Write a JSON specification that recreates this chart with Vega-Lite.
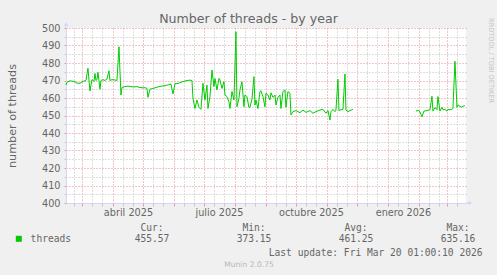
{
  "$schema": "https://vega.github.io/schema/vega-lite/v6.json",
  "width": 400,
  "height": 175,
  "autosize": "none",
  "padding": {"left": 66, "top": 28, "right": 31, "bottom": 72},
  "background": "#f0f0f0",
  "title": {"text": "Number of threads - by year", "font": "DejaVu Sans", "fontSize": 12.6, "fontWeight": "normal", "color": "#666666", "anchor": "middle", "frame": "group", "dx": -17.5, "offset": -8},
  "config": {
    "view": {"stroke": null, "fill": "#ffffff"},
    "axis": {"labelFont": "DejaVu Sans", "titleFont": "DejaVu Sans", "labelColor": "#666666", "titleColor": "#666666", "titleFontWeight": "normal"}
  },
  "data": {"values": [
    {"date": "2025-02-13", "v": 467.4, "seg": 1},
    {"date": "2025-02-14", "v": 469, "seg": 1},
    {"date": "2025-02-17", "v": 469.8, "seg": 1},
    {"date": "2025-02-21", "v": 469.5, "seg": 1},
    {"date": "2025-02-24", "v": 468.5, "seg": 1},
    {"date": "2025-02-27", "v": 468.4, "seg": 1},
    {"date": "2025-03-02", "v": 469.5, "seg": 1},
    {"date": "2025-03-05", "v": 470, "seg": 1},
    {"date": "2025-03-07", "v": 477, "seg": 1},
    {"date": "2025-03-09", "v": 464, "seg": 1},
    {"date": "2025-03-11", "v": 470.5, "seg": 1},
    {"date": "2025-03-13", "v": 469.5, "seg": 1},
    {"date": "2025-03-14", "v": 474, "seg": 1},
    {"date": "2025-03-15", "v": 470, "seg": 1},
    {"date": "2025-03-16", "v": 470.5, "seg": 1},
    {"date": "2025-03-17", "v": 474.7, "seg": 1},
    {"date": "2025-03-18", "v": 470, "seg": 1},
    {"date": "2025-03-19", "v": 465, "seg": 1},
    {"date": "2025-03-20", "v": 470, "seg": 1},
    {"date": "2025-03-22", "v": 470.5, "seg": 1},
    {"date": "2025-03-24", "v": 470, "seg": 1},
    {"date": "2025-03-26", "v": 470.8, "seg": 1},
    {"date": "2025-03-28", "v": 475.6, "seg": 1},
    {"date": "2025-03-29", "v": 470, "seg": 1},
    {"date": "2025-03-31", "v": 470.5, "seg": 1},
    {"date": "2025-04-03", "v": 470.3, "seg": 1},
    {"date": "2025-04-05", "v": 470, "seg": 1},
    {"date": "2025-04-07", "v": 489.3, "seg": 1},
    {"date": "2025-04-09", "v": 461.7, "seg": 1},
    {"date": "2025-04-10", "v": 466, "seg": 1},
    {"date": "2025-04-13", "v": 466.5, "seg": 1},
    {"date": "2025-04-16", "v": 466.8, "seg": 1},
    {"date": "2025-04-19", "v": 466.5, "seg": 1},
    {"date": "2025-04-22", "v": 466.3, "seg": 1},
    {"date": "2025-04-25", "v": 466.5, "seg": 1},
    {"date": "2025-04-28", "v": 466, "seg": 1},
    {"date": "2025-05-01", "v": 465.8, "seg": 1},
    {"date": "2025-05-03", "v": 465.9, "seg": 1},
    {"date": "2025-05-05", "v": 465.5, "seg": 1},
    {"date": "2025-05-06", "v": 460.4, "seg": 1},
    {"date": "2025-05-08", "v": 465, "seg": 1},
    {"date": "2025-05-11", "v": 465.5, "seg": 1},
    {"date": "2025-05-14", "v": 466, "seg": 1},
    {"date": "2025-05-17", "v": 466.5, "seg": 1},
    {"date": "2025-05-20", "v": 466.8, "seg": 1},
    {"date": "2025-05-23", "v": 467, "seg": 1},
    {"date": "2025-05-26", "v": 467.5, "seg": 1},
    {"date": "2025-05-29", "v": 468, "seg": 1},
    {"date": "2025-05-31", "v": 462.3, "seg": 1},
    {"date": "2025-06-02", "v": 468.2, "seg": 1},
    {"date": "2025-06-05", "v": 468.3, "seg": 1},
    {"date": "2025-06-08", "v": 469, "seg": 1},
    {"date": "2025-06-11", "v": 469.5, "seg": 1},
    {"date": "2025-06-14", "v": 470, "seg": 1},
    {"date": "2025-06-17", "v": 470.2, "seg": 1},
    {"date": "2025-06-19", "v": 470, "seg": 1},
    {"date": "2025-06-20", "v": 459.8, "seg": 1},
    {"date": "2025-06-22", "v": 454, "seg": 1},
    {"date": "2025-06-24", "v": 458.9, "seg": 1},
    {"date": "2025-06-26", "v": 454.7, "seg": 1},
    {"date": "2025-06-28", "v": 453.5, "seg": 1},
    {"date": "2025-06-30", "v": 468.4, "seg": 1},
    {"date": "2025-07-02", "v": 458.9, "seg": 1},
    {"date": "2025-07-04", "v": 467.4, "seg": 1},
    {"date": "2025-07-05", "v": 454, "seg": 1},
    {"date": "2025-07-07", "v": 460.8, "seg": 1},
    {"date": "2025-07-09", "v": 476, "seg": 1},
    {"date": "2025-07-11", "v": 466.5, "seg": 1},
    {"date": "2025-07-12", "v": 471.2, "seg": 1},
    {"date": "2025-07-14", "v": 464.6, "seg": 1},
    {"date": "2025-07-16", "v": 471.2, "seg": 1},
    {"date": "2025-07-17", "v": 470.3, "seg": 1},
    {"date": "2025-07-19", "v": 465.5, "seg": 1},
    {"date": "2025-07-21", "v": 469.3, "seg": 1},
    {"date": "2025-07-22", "v": 461.7, "seg": 1},
    {"date": "2025-07-24", "v": 460.8, "seg": 1},
    {"date": "2025-07-26", "v": 457.9, "seg": 1},
    {"date": "2025-07-27", "v": 454, "seg": 1},
    {"date": "2025-07-29", "v": 463.7, "seg": 1},
    {"date": "2025-07-31", "v": 458.9, "seg": 1},
    {"date": "2025-08-02", "v": 497.9, "seg": 1},
    {"date": "2025-08-03", "v": 455, "seg": 1},
    {"date": "2025-08-05", "v": 459.8, "seg": 1},
    {"date": "2025-08-06", "v": 464.6, "seg": 1},
    {"date": "2025-08-08", "v": 469.3, "seg": 1},
    {"date": "2025-08-10", "v": 455, "seg": 1},
    {"date": "2025-08-11", "v": 461.7, "seg": 1},
    {"date": "2025-08-13", "v": 460.8, "seg": 1},
    {"date": "2025-08-15", "v": 454.5, "seg": 1},
    {"date": "2025-08-16", "v": 454.7, "seg": 1},
    {"date": "2025-08-18", "v": 459.4, "seg": 1},
    {"date": "2025-08-20", "v": 472.2, "seg": 1},
    {"date": "2025-08-21", "v": 456, "seg": 1},
    {"date": "2025-08-22", "v": 458.9, "seg": 1},
    {"date": "2025-08-24", "v": 454, "seg": 1},
    {"date": "2025-08-26", "v": 463.7, "seg": 1},
    {"date": "2025-08-27", "v": 464.2, "seg": 1},
    {"date": "2025-08-29", "v": 460.8, "seg": 1},
    {"date": "2025-08-31", "v": 455, "seg": 1},
    {"date": "2025-09-01", "v": 462.7, "seg": 1},
    {"date": "2025-09-03", "v": 461.7, "seg": 1},
    {"date": "2025-09-05", "v": 458.9, "seg": 1},
    {"date": "2025-09-06", "v": 463, "seg": 1},
    {"date": "2025-09-08", "v": 460.4, "seg": 1},
    {"date": "2025-09-10", "v": 461.7, "seg": 1},
    {"date": "2025-09-11", "v": 456, "seg": 1},
    {"date": "2025-09-13", "v": 460.4, "seg": 1},
    {"date": "2025-09-15", "v": 461.7, "seg": 1},
    {"date": "2025-09-16", "v": 454, "seg": 1},
    {"date": "2025-09-18", "v": 463.7, "seg": 1},
    {"date": "2025-09-20", "v": 464.6, "seg": 1},
    {"date": "2025-09-21", "v": 454.7, "seg": 1},
    {"date": "2025-09-23", "v": 463.7, "seg": 1},
    {"date": "2025-09-25", "v": 462.7, "seg": 1},
    {"date": "2025-09-26", "v": 450.3, "seg": 1},
    {"date": "2025-09-28", "v": 452.2, "seg": 1},
    {"date": "2025-10-01", "v": 452.8, "seg": 1},
    {"date": "2025-10-05", "v": 451.6, "seg": 1},
    {"date": "2025-10-08", "v": 453.1, "seg": 1},
    {"date": "2025-10-11", "v": 451.8, "seg": 1},
    {"date": "2025-10-15", "v": 452.8, "seg": 1},
    {"date": "2025-10-18", "v": 451.3, "seg": 1},
    {"date": "2025-10-21", "v": 452.2, "seg": 1},
    {"date": "2025-10-25", "v": 453.1, "seg": 1},
    {"date": "2025-10-28", "v": 453.5, "seg": 1},
    {"date": "2025-10-31", "v": 451.3, "seg": 1},
    {"date": "2025-11-02", "v": 452.8, "seg": 1},
    {"date": "2025-11-04", "v": 447.4, "seg": 1},
    {"date": "2025-11-05", "v": 452.2, "seg": 1},
    {"date": "2025-11-07", "v": 453.5, "seg": 1},
    {"date": "2025-11-09", "v": 452.2, "seg": 1},
    {"date": "2025-11-10", "v": 453.1, "seg": 1},
    {"date": "2025-11-12", "v": 470.7, "seg": 1},
    {"date": "2025-11-13", "v": 452.8, "seg": 1},
    {"date": "2025-11-14", "v": 453.1, "seg": 1},
    {"date": "2025-11-17", "v": 453.5, "seg": 1},
    {"date": "2025-11-19", "v": 473.7, "seg": 1},
    {"date": "2025-11-20", "v": 453.1, "seg": 1},
    {"date": "2025-11-22", "v": 452.2, "seg": 1},
    {"date": "2025-11-25", "v": 453.1, "seg": 1},
    {"date": "2025-11-27", "v": 453.5, "seg": 1},
    {"date": "2026-01-29", "v": 452.6, "seg": 2},
    {"date": "2026-02-01", "v": 452.8, "seg": 2},
    {"date": "2026-02-02", "v": 452, "seg": 2},
    {"date": "2026-02-04", "v": 449.3, "seg": 2},
    {"date": "2026-02-06", "v": 452.5, "seg": 2},
    {"date": "2026-02-09", "v": 452.8, "seg": 2},
    {"date": "2026-02-12", "v": 453.3, "seg": 2},
    {"date": "2026-02-14", "v": 461, "seg": 2},
    {"date": "2026-02-15", "v": 452.5, "seg": 2},
    {"date": "2026-02-17", "v": 454.5, "seg": 2},
    {"date": "2026-02-19", "v": 453.3, "seg": 2},
    {"date": "2026-02-20", "v": 460.8, "seg": 2},
    {"date": "2026-02-22", "v": 452.5, "seg": 2},
    {"date": "2026-02-24", "v": 454.7, "seg": 2},
    {"date": "2026-02-25", "v": 453.3, "seg": 2},
    {"date": "2026-02-27", "v": 453.5, "seg": 2},
    {"date": "2026-03-01", "v": 452.5, "seg": 2},
    {"date": "2026-03-02", "v": 453.5, "seg": 2},
    {"date": "2026-03-04", "v": 453.3, "seg": 2},
    {"date": "2026-03-06", "v": 453.5, "seg": 2},
    {"date": "2026-03-07", "v": 454.2, "seg": 2},
    {"date": "2026-03-09", "v": 481, "seg": 2},
    {"date": "2026-03-11", "v": 454.7, "seg": 2},
    {"date": "2026-03-12", "v": 456, "seg": 2},
    {"date": "2026-03-14", "v": 455.3, "seg": 2},
    {"date": "2026-03-16", "v": 454.7, "seg": 2},
    {"date": "2026-03-17", "v": 455.3, "seg": 2},
    {"date": "2026-03-19", "v": 455.6, "seg": 2}
  ]},
  "resolve": {"scale": {"x": "independent", "y": "independent"}, "axis": {"x": "independent", "y": "independent"}},
  "layer": [
    {
      "mark": {"type": "line", "opacity": 0},
      "encoding": {
        "x": {"field": "date", "type": "temporal",
          "scale": {"type": "utc", "nice": false, "domain": [{"year": 2025, "month": 2, "date": 13, "hours": 1, "utc": true}, {"year": 2026, "month": 3, "date": 20, "hours": 1, "utc": true}]},
          "axis": {"orient": "bottom", "values": [
            {"year": 2025, "month": 2, "date": 21, "utc": true},
            {"year": 2025, "month": 3, "date": 11, "utc": true}, {"year": 2025, "month": 3, "date": 21, "utc": true},
            {"year": 2025, "month": 4, "date": 11, "utc": true}, {"year": 2025, "month": 4, "date": 21, "utc": true},
            {"year": 2025, "month": 5, "date": 11, "utc": true}, {"year": 2025, "month": 5, "date": 21, "utc": true},
            {"year": 2025, "month": 6, "date": 11, "utc": true}, {"year": 2025, "month": 6, "date": 21, "utc": true},
            {"year": 2025, "month": 7, "date": 11, "utc": true}, {"year": 2025, "month": 7, "date": 21, "utc": true},
            {"year": 2025, "month": 8, "date": 11, "utc": true}, {"year": 2025, "month": 8, "date": 21, "utc": true},
            {"year": 2025, "month": 9, "date": 11, "utc": true}, {"year": 2025, "month": 9, "date": 21, "utc": true},
            {"year": 2025, "month": 10, "date": 11, "utc": true}, {"year": 2025, "month": 10, "date": 21, "utc": true},
            {"year": 2025, "month": 11, "date": 11, "utc": true}, {"year": 2025, "month": 11, "date": 21, "utc": true},
            {"year": 2025, "month": 12, "date": 11, "utc": true}, {"year": 2025, "month": 12, "date": 21, "utc": true},
            {"year": 2026, "month": 1, "date": 11, "utc": true}, {"year": 2026, "month": 1, "date": 21, "utc": true},
            {"year": 2026, "month": 2, "date": 11, "utc": true}, {"year": 2026, "month": 2, "date": 21, "utc": true},
            {"year": 2026, "month": 3, "date": 11, "utc": true}],
            "grid": true, "gridColor": "#bdbdbd", "gridDash": [1, 2], "labels": false, "ticks": true, "tickColor": "#c8c8c8", "tickSize": 3, "domain": false,
            "title": "Munin 2.0.75", "titleX": 182.5, "titleY": 61, "titleAlign": "center", "titleBaseline": "middle", "titleFont": "DejaVu Sans", "titleFontSize": 7.6, "titleColor": "#b8b8b8"}},
        "y": {"field": "v", "type": "quantitative",
          "scale": {"domain": [400, 500], "nice": false, "zero": false},
          "axis": {"orient": "left", "values": [405, 415, 425, 435, 445, 455, 465, 475, 485, 495], "grid": true, "gridColor": "#bdbdbd", "gridDash": [1, 2], "labels": false, "ticks": true, "tickSize": 2, "tickColor": "#c8c8c8", "domain": false, "title": null}},
        "detail": {"field": "seg"}
      }
    },
    {
      "mark": {"type": "line", "opacity": 0},
      "encoding": {
        "x": {"field": "date", "type": "temporal",
          "scale": {"type": "utc", "nice": false, "domain": [{"year": 2025, "month": 2, "date": 13, "hours": 1, "utc": true}, {"year": 2026, "month": 3, "date": 20, "hours": 1, "utc": true}]},
          "axis": {"orient": "bottom", "values": [
            {"year": 2025, "month": 3, "date": 1, "utc": true}, {"year": 2025, "month": 4, "date": 1, "utc": true},
            {"year": 2025, "month": 5, "date": 1, "utc": true}, {"year": 2025, "month": 6, "date": 1, "utc": true},
            {"year": 2025, "month": 7, "date": 1, "utc": true}, {"year": 2025, "month": 8, "date": 1, "utc": true},
            {"year": 2025, "month": 9, "date": 1, "utc": true}, {"year": 2025, "month": 10, "date": 1, "utc": true},
            {"year": 2025, "month": 11, "date": 1, "utc": true}, {"year": 2025, "month": 12, "date": 1, "utc": true},
            {"year": 2026, "month": 1, "date": 1, "utc": true}, {"year": 2026, "month": 2, "date": 1, "utc": true},
            {"year": 2026, "month": 3, "date": 1, "utc": true}],
            "grid": true, "gridColor": "#e88a8a", "gridDash": [1, 2], "labels": false, "ticks": true, "tickColor": "#eb9595", "tickSize": 3, "domain": false,
            "title": "Last update: Fri Mar 20 01:00:10 2026", "titleX": 416, "titleY": 49, "titleAlign": "right", "titleBaseline": "middle", "titleFont": "DejaVu Sans Mono", "titleFontSize": 9.6, "titleColor": "#666666"}},
        "y": {"field": "v", "type": "quantitative",
          "scale": {"domain": [400, 500], "nice": false, "zero": false},
          "axis": {"orient": "left", "values": [400, 410, 420, 430, 440, 450, 460, 470, 480, 490, 500], "grid": true, "gridColor": "#e88a8a", "gridDash": [1, 2], "labels": true, "labelFontSize": 9.7, "labelPadding": 4, "labelFlush": false, "labelOverlap": false, "ticks": true, "tickSize": 2, "tickColor": "#eb9595", "domain": true, "domainColor": "#CFD6F8",
            "title": "number of threads", "titleFontSize": 11.2, "titlePadding": 24}},
        "detail": {"field": "seg"}
      }
    },
    {
      "mark": {"type": "line", "strokeWidth": 1},
      "encoding": {
        "x": {"field": "date", "type": "temporal",
          "scale": {"type": "utc", "nice": false, "domain": [{"year": 2025, "month": 2, "date": 13, "hours": 1, "utc": true}, {"year": 2026, "month": 3, "date": 20, "hours": 1, "utc": true}]},
          "axis": {"orient": "bottom", "values": [
            {"year": 2025, "month": 4, "date": 16, "utc": true}, {"year": 2025, "month": 7, "date": 16, "utc": true},
            {"year": 2025, "month": 10, "date": 16, "utc": true}, {"year": 2026, "month": 1, "date": 16, "utc": true}],
            "labelExpr": "['enero','febrero','marzo','abril','mayo','junio','julio','agosto','septiembre','octubre','noviembre','diciembre'][utcmonth(datum.value)] + ' ' + utcyear(datum.value)",
            "grid": false, "ticks": false, "labels": true, "labelFontSize": 9.7, "labelPadding": 4, "labelFlush": false, "labelOverlap": false, "domain": true, "domainColor": "#CFD6F8", "title": null}},
        "y": {"field": "v", "type": "quantitative",
          "scale": {"domain": [400, 500], "nice": false, "zero": false},
          "axis": {"orient": "right", "grid": false, "labels": false, "ticks": false, "domain": false,
            "title": "RRDTOOL / TOBI OETIKER", "titleAngle": 90, "titleX": 24, "titleY": 32, "titleAlign": "center", "titleBaseline": "middle", "titleFontSize": 6.6, "titleColor": "#c4c4c4"}},
        "detail": {"field": "seg"},
        "color": {"datum": "threads", "type": "nominal", "scale": {"range": ["#00cc00"]},
          "legend": {"orient": "none", "legendX": -52, "legendY": 206, "title": null, "padding": 0, "symbolType": "square", "symbolSize": 36, "symbolStrokeWidth": 0, "symbolFillColor": "#00cc00", "symbolStrokeColor": "#00cc00", "labelFont": "DejaVu Sans Mono", "labelFontSize": 9.6, "labelColor": "#666666", "labelOffset": 7}}
      }
    },
    {
      "data": {"values": [
        {"col": "Cur", "row": "head", "label": "Cur:"},
        {"col": "Min", "row": "head", "label": "Min:"},
        {"col": "Avg", "row": "head", "label": "Avg:"},
        {"col": "Max", "row": "head", "label": "Max:"},
        {"col": "Cur", "row": "val", "label": "455.57"},
        {"col": "Min", "row": "val", "label": "373.15"},
        {"col": "Avg", "row": "val", "label": "461.25"},
        {"col": "Max", "row": "val", "label": "635.16"}
      ]},
      "mark": {"type": "text", "font": "DejaVu Sans Mono", "fontSize": 9.6, "color": "#666666", "align": "center", "baseline": "middle"},
      "encoding": {
        "x": {"field": "col", "type": "nominal", "scale": {"type": "point", "domain": ["Cur", "Min", "Avg", "Max"], "range": [86, 392], "padding": 0}, "axis": null},
        "y": {"field": "row", "type": "nominal", "scale": {"type": "point", "domain": ["head", "val"], "range": [200, 211], "padding": 0}, "axis": null},
        "text": {"field": "label"}
      }
    },
    {
      "data": {"values": [{}]},
      "mark": {"type": "rule", "color": "#CFD6F8", "strokeWidth": 1},
      "encoding": {
        "x": {"datum": {"year": 2025, "month": 2, "date": 13, "hours": 1, "utc": true}, "type": "temporal",
          "scale": {"type": "utc", "nice": false, "domain": [{"year": 2025, "month": 2, "date": 13, "hours": 1, "utc": true}, {"year": 2026, "month": 3, "date": 20, "hours": 1, "utc": true}]}, "axis": null},
        "y": {"datum": 500, "type": "quantitative", "scale": {"domain": [400, 500], "nice": false, "zero": false}, "axis": null},
        "y2": {"datum": 502.5}
      }
    },
    {
      "data": {"values": [{}]},
      "mark": {"type": "point", "shape": "triangle-up", "filled": true, "size": 18, "color": "#CFD6F8", "opacity": 1},
      "encoding": {
        "x": {"datum": {"year": 2025, "month": 2, "date": 13, "hours": 1, "utc": true}, "type": "temporal",
          "scale": {"type": "utc", "nice": false, "domain": [{"year": 2025, "month": 2, "date": 13, "hours": 1, "utc": true}, {"year": 2026, "month": 3, "date": 20, "hours": 1, "utc": true}]}, "axis": null},
        "y": {"datum": 502.3, "type": "quantitative", "scale": {"domain": [400, 500], "nice": false, "zero": false}, "axis": null}
      }
    },
    {
      "data": {"values": [{}]},
      "mark": {"type": "rule", "color": "#CFD6F8", "strokeWidth": 1},
      "encoding": {
        "x": {"datum": {"year": 2026, "month": 3, "date": 20, "hours": 1, "utc": true}, "type": "temporal",
          "scale": {"type": "utc", "nice": false, "domain": [{"year": 2025, "month": 2, "date": 13, "hours": 1, "utc": true}, {"year": 2026, "month": 3, "date": 20, "hours": 1, "utc": true}]}, "axis": null},
        "x2": {"datum": {"year": 2026, "month": 3, "date": 23, "hours": 12, "utc": true}},
        "y": {"datum": 400, "type": "quantitative", "scale": {"domain": [400, 500], "nice": false, "zero": false}, "axis": null}
      }
    },
    {
      "data": {"values": [{}]},
      "mark": {"type": "point", "shape": "triangle-right", "filled": true, "size": 18, "color": "#CFD6F8", "opacity": 1},
      "encoding": {
        "x": {"datum": {"year": 2026, "month": 3, "date": 24, "hours": 12, "utc": true}, "type": "temporal",
          "scale": {"type": "utc", "nice": false, "domain": [{"year": 2025, "month": 2, "date": 13, "hours": 1, "utc": true}, {"year": 2026, "month": 3, "date": 20, "hours": 1, "utc": true}]}, "axis": null},
        "y": {"datum": 400, "type": "quantitative", "scale": {"domain": [400, 500], "nice": false, "zero": false}, "axis": null}
      }
    }
  ]
}
